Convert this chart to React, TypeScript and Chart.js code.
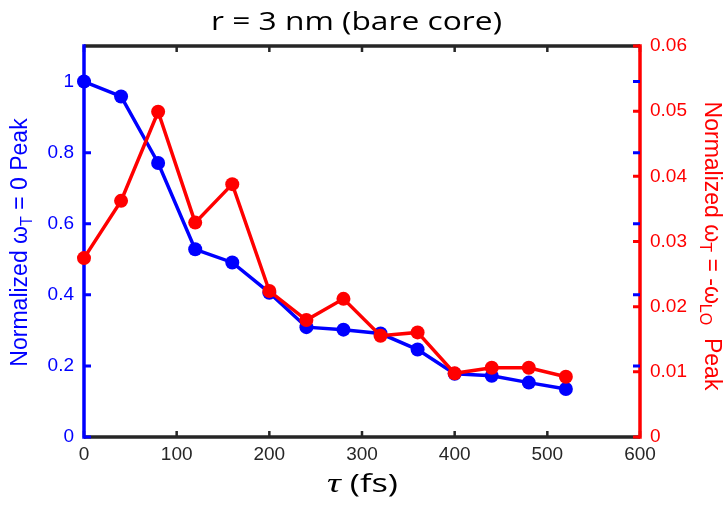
import React, { useEffect, useRef } from "react";
import { Chart, registerables } from "chart.js";

Chart.register(...registerables);

// ---- data ----
const tau = [0, 40, 80, 120, 160, 200, 240, 280, 320, 360, 400, 440, 480, 520];
const peakZero = [1.0, 0.958, 0.771, 0.528, 0.491, 0.406, 0.309, 0.302, 0.291, 0.246, 0.178, 0.172, 0.153, 0.135];
const peakLO = [0.02745, 0.03624, 0.0499, 0.0329, 0.0388, 0.0224, 0.01795, 0.0212, 0.01554, 0.01605, 0.00977, 0.01063, 0.01063, 0.00925];

const xTicks = [0, 100, 200, 300, 400, 500, 600];
const xTickLabels = ["0", "100", "200", "300", "400", "500", "600"];
const leftTicks = [0, 0.2, 0.4, 0.6, 0.8, 1];
const leftTickLabels = ["0", "0.2", "0.4", "0.6", "0.8", "1"];
const rightTicks = [0, 0.01, 0.02, 0.03, 0.04, 0.05, 0.06];
const rightTickLabels = ["0", "0.01", "0.02", "0.03", "0.04", "0.05", "0.06"];

const titleText = "r = 3 nm (bare core)";
const xTitleSymbol = "τ";
const xTitleUnit = " (fs)";
const leftTitle = [
  { t: "Normalized " },
  { t: "ω" },
  { t: "T", sub: true },
  { t: " = 0 Peak" },
];
const rightTitle = [
  { t: "Normalized " },
  { t: "ω" },
  { t: "T", sub: true },
  { t: " = -ω" },
  { t: "LO", sub: true },
  { t: "  Peak" },
];

const BLUE = "#0000ff";
const RED = "#ff0000";
const DARK = "#262626";

function drawRich(ctx: CanvasRenderingContext2D, segs: any[], size: number, color: string) {
  const main = `${size}px "Liberation Sans", Arial, sans-serif`;
  const sub = `${Math.round(size * 0.7)}px "Liberation Sans", Arial, sans-serif`;
  let total = 0;
  const widths = segs.map((s) => {
    ctx.font = s.sub ? sub : main;
    const w = ctx.measureText(s.t).width;
    total += w;
    return w;
  });
  let x = -total / 2;
  ctx.fillStyle = color;
  ctx.textAlign = "left";
  ctx.textBaseline = "alphabetic";
  segs.forEach((s, i) => {
    ctx.font = s.sub ? sub : main;
    ctx.fillText(s.t, x, s.sub ? size * 0.22 : 0);
    x += widths[i];
  });
}

const axesPlugin = {
  id: "axesPlugin",
  beforeDatasetsDraw(chart: any) {
    const { ctx, chartArea } = chart;
    const { left, right, top, bottom } = chartArea;
    const xs = chart.scales.x;
    const yl = chart.scales.y;
    const yr = chart.scales.y1;
    ctx.save();
    ctx.lineCap = "butt";
    ctx.strokeStyle = DARK;
    ctx.lineWidth = 3.5;
    ctx.beginPath();
    ctx.moveTo(left, top);
    ctx.lineTo(right, top);
    ctx.moveTo(left, bottom);
    ctx.lineTo(right, bottom);
    ctx.stroke();
    ctx.lineWidth = 2.5;
    ctx.beginPath();
    xTicks.forEach((v) => {
      const px = xs.getPixelForValue(v);
      ctx.moveTo(px, bottom);
      ctx.lineTo(px, bottom - 6);
      ctx.moveTo(px, top);
      ctx.lineTo(px, top + 6);
    });
    ctx.stroke();
    ctx.strokeStyle = BLUE;
    ctx.lineWidth = 3.5;
    ctx.beginPath();
    ctx.moveTo(left, top - 1.75);
    ctx.lineTo(left, bottom + 1.75);
    ctx.stroke();
    ctx.strokeStyle = RED;
    ctx.beginPath();
    ctx.moveTo(right, top - 1.75);
    ctx.lineTo(right, bottom + 1.75);
    ctx.stroke();
    ctx.strokeStyle = BLUE;
    ctx.lineWidth = 3;
    ctx.beginPath();
    leftTicks.forEach((v) => {
      const py = yl.getPixelForValue(v);
      ctx.moveTo(left, py);
      ctx.lineTo(left + 7, py);
      if (v > 0) {
        ctx.moveTo(right, py);
        ctx.lineTo(right - 7, py);
      }
    });
    ctx.stroke();
    ctx.strokeStyle = RED;
    ctx.beginPath();
    rightTicks.forEach((v) => {
      const py = yr.getPixelForValue(v);
      ctx.moveTo(right, py);
      ctx.lineTo(right - 7, py);
    });
    ctx.stroke();
    ctx.restore();
  },
  afterDraw(chart: any) {
    const { ctx } = chart;
    ctx.save();
    ctx.font = `26px "Open Sans", Lato, sans-serif`;
    const tw = ctx.measureText(titleText).width;
    ctx.translate(356.5, 29.5);
    ctx.scale(291 / tw, 1);
    ctx.fillStyle = "#000000";
    ctx.textAlign = "center";
    ctx.textBaseline = "alphabetic";
    ctx.fillText(titleText, 0, 0);
    ctx.restore();

    ctx.save();
    const symFont = `italic 28px "Liberation Serif", serif`;
    const unitFont = `25px "Open Sans", Lato, sans-serif`;
    ctx.font = symFont;
    const w1 = ctx.measureText(xTitleSymbol).width;
    ctx.font = unitFont;
    const w2 = ctx.measureText(xTitleUnit).width;
    const sx = 71 / (w1 + w2);
    ctx.translate(362.5, 492);
    ctx.scale(sx, 1);
    ctx.fillStyle = "#000000";
    ctx.textAlign = "left";
    ctx.textBaseline = "alphabetic";
    ctx.font = symFont;
    ctx.fillText(xTitleSymbol, -(w1 + w2) / 2, 0);
    ctx.font = unitFont;
    ctx.fillText(xTitleUnit, -(w1 + w2) / 2 + w1, 0);
    ctx.restore();

    ctx.save();
    ctx.translate(27, 242.5);
    ctx.rotate(-Math.PI / 2);
    drawRich(ctx, leftTitle, 23, BLUE);
    ctx.restore();

    ctx.save();
    ctx.translate(705, 246);
    ctx.rotate(Math.PI / 2);
    drawRich(ctx, rightTitle, 23, RED);
    ctx.restore();
  },
};

export default function App() {
  const canvasRef = useRef<HTMLCanvasElement | null>(null);

  useEffect(() => {
    const canvas = canvasRef.current;
    if (!canvas) return;
    const tickFont = { family: '"Liberation Sans", Arial, sans-serif', size: 19 };
    const chart = new Chart(canvas, {
      type: "line",
      data: {
        datasets: [
          {
            label: "Normalized ωT = -ωLO Peak",
            data: tau.map((x, i) => ({ x, y: peakLO[i] })),
            yAxisID: "y1",
            borderColor: RED,
            backgroundColor: RED,
            pointBackgroundColor: RED,
            borderWidth: 3.5,
            pointRadius: 7,
            pointBorderWidth: 0,
            pointHoverRadius: 7,
            tension: 0,
            order: 0,
            clip: false,
          } as any,
          {
            label: "Normalized ωT = 0 Peak",
            data: tau.map((x, i) => ({ x, y: peakZero[i] })),
            yAxisID: "y",
            borderColor: BLUE,
            backgroundColor: BLUE,
            pointBackgroundColor: BLUE,
            borderWidth: 3.5,
            pointRadius: 7,
            pointBorderWidth: 0,
            pointHoverRadius: 7,
            tension: 0,
            order: 1,
            clip: false,
          } as any,
        ],
      },
      options: {
        animation: false,
        responsive: false,
        maintainAspectRatio: false,
        events: [],
        layout: { padding: { top: 46, left: 0, right: 0, bottom: 0 } },
        plugins: {
          legend: { display: false },
          title: { display: false },
          tooltip: { enabled: false },
        },
        scales: {
          x: {
            type: "linear",
            min: 0,
            max: 600,
            grid: { display: false, drawTicks: false },
            border: { display: false },
            afterBuildTicks: (s: any) => {
              s.ticks = xTicks.map((v) => ({ value: v }));
            },
            afterFit: (s: any) => {
              s.height = 72;
            },
            ticks: {
              color: DARK,
              font: tickFont,
              padding: 6,
              maxRotation: 0,
              autoSkip: false,
              callback: (_v: any, i: number) => xTickLabels[i],
            },
          },
          y: {
            type: "linear",
            position: "left",
            min: 0,
            max: 1.1,
            grid: { display: false, drawTicks: false },
            border: { display: false },
            afterBuildTicks: (s: any) => {
              s.ticks = leftTicks.map((v) => ({ value: v }));
            },
            afterFit: (s: any) => {
              s.width = 84;
            },
            ticks: {
              color: BLUE,
              font: tickFont,
              padding: 10,
              autoSkip: false,
              callback: (_v: any, i: number) => leftTickLabels[i],
            },
          },
          y1: {
            type: "linear",
            position: "right",
            min: 0,
            max: 0.06,
            grid: { display: false, drawTicks: false },
            border: { display: false },
            afterBuildTicks: (s: any) => {
              s.ticks = rightTicks.map((v) => ({ value: v }));
            },
            afterFit: (s: any) => {
              s.width = 85;
            },
            ticks: {
              color: RED,
              font: tickFont,
              padding: 10,
              autoSkip: false,
              callback: (_v: any, i: number) => rightTickLabels[i],
            },
          },
        },
      } as any,
      plugins: [axesPlugin],
    });
    return () => chart.destroy();
  }, []);

  return (
    <div style={{ position: "fixed", left: 0, top: 0, width: 725, height: 509, background: "#ffffff" }}>
      <canvas ref={canvasRef} width={725} height={509} style={{ display: "block", width: 725, height: 509 }} />
    </div>
  );
}
